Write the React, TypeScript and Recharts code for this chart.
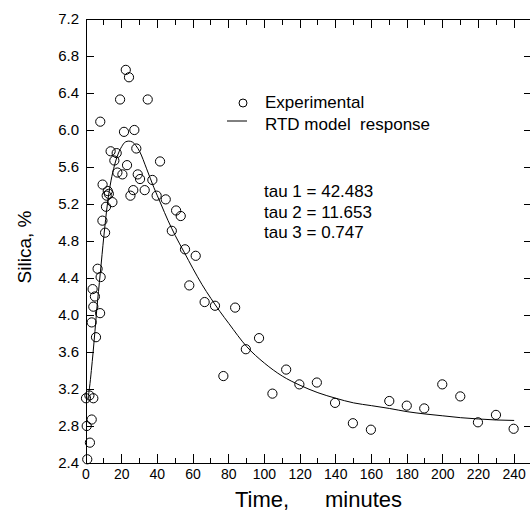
import React from 'react';
import { ComposedChart, Scatter, Line, XAxis, YAxis, Label, Customized } from 'recharts';

// Experimental points (time, minutes / silica, %)
const expTime = [
  0, 0.4, 0.7, 1.9, 2.2, 3.2, 3.2, 3.7, 4.1, 4.1, 5.0, 5.6, 6.5, 7.9, 8.0, 8.2, 9.2, 9.3,
  10.7, 11.2, 11.6, 12.2, 12.8, 13.8, 14.8, 15.9, 17.2, 17.6, 19.1, 20.4, 21.3, 22.3, 23.0,
  24.1, 24.9, 26.5, 27.1, 28.2, 29.0, 30.3, 32.9, 34.6, 37.2, 39.6, 41.5, 44.7, 48.1, 50.5,
  53.1, 55.5, 57.9, 61.5, 66.5, 72.3, 77.0, 83.6, 89.6, 97.0, 104.5, 112.2, 119.6, 129.4,
  139.6, 149.6, 159.7, 170, 179.8, 189.6, 199.7, 209.8, 219.7, 229.8, 239.7,
];
const expSilica = [
  3.10, 2.80, 2.44, 3.13, 2.62, 2.87, 3.92, 4.28, 3.10, 4.09, 4.20, 3.76, 4.50, 4.02, 6.09, 4.41, 5.02, 5.41,
  4.89, 5.17, 5.29, 5.34, 5.31, 5.77, 5.22, 5.67, 5.75, 5.54, 6.33, 5.52, 5.98, 6.65, 5.62,
  6.57, 5.29, 5.35, 6.00, 5.80, 5.52, 5.47, 5.35, 6.33, 5.46, 5.29, 5.66, 5.25, 4.91, 5.13,
  5.07, 4.71, 4.32, 4.64, 4.14, 4.10, 3.34, 4.08, 3.63, 3.75, 3.15, 3.41, 3.25, 3.27,
  3.05, 2.83, 2.76, 3.07, 3.02, 2.99, 3.25, 3.12, 2.84, 2.92, 2.77,
];

// RTD model response curve
const modelTime = [
  0, 1, 2, 3, 4, 5, 6, 8, 10, 12, 14, 16, 18, 20, 22, 24, 26, 28, 30, 34, 38, 42, 46, 50,
  55, 60, 65, 70, 75, 80, 90, 100, 110, 120, 130, 140, 150, 160, 170, 180, 190, 200, 210,
  220, 230, 240,
];
const modelSilica = [
  3.08, 3.10, 3.22, 3.40, 3.60, 3.82, 4.05, 4.45, 4.85, 5.20, 5.45, 5.62, 5.74, 5.82, 5.87,
  5.88, 5.87, 5.83, 5.77, 5.58, 5.38, 5.20, 5.02, 4.86, 4.68, 4.50, 4.33, 4.18, 4.04, 3.91,
  3.66, 3.48, 3.34, 3.24, 3.16, 3.10, 3.05, 3.02, 2.99, 2.955, 2.93, 2.91, 2.89, 2.876,
  2.865, 2.86,
];

const xMajorTicks = [0, 20, 40, 60, 80, 100, 120, 140, 160, 180, 200, 220, 240];
const xMinorTicks = [10, 30, 50, 70, 90, 110, 130, 150, 170, 190, 210, 230];
const yTicks = [2.4, 2.8, 3.2, 3.6, 4.0, 4.4, 4.8, 5.2, 5.6, 6.0, 6.4, 6.8, 7.2];

const legendLabels = ['Experimental', 'RTD model  response'];
const tauLabels = ['tau 1 = 42.483', 'tau 2 = 11.653', 'tau 3 = 0.747'];

const FONT = 'Liberation Sans, Arial, Helvetica, sans-serif';
const X_DOMAIN: [number, number] = [0, 250];
const Y_DOMAIN: [number, number] = [2.4, 7.2];
const AXIS_LINE = { stroke: '#000', strokeWidth: 1, shapeRendering: 'crispEdges' };

const expData = expTime.map((t, i) => ({ x: t, y: expSilica[i] }));
const modelData = modelTime.map((t, i) => ({ x: t, y: modelSilica[i] }));

// tick-mark anchor points on the frame, placed through the chart scales
const bottomMajor = xMajorTicks.map((v) => ({ x: v, y: Y_DOMAIN[0] }));
const bottomMinor = xMinorTicks.map((v) => ({ x: v, y: Y_DOMAIN[0] }));
const topMajor = xMajorTicks.map((v) => ({ x: v, y: Y_DOMAIN[1] }));
const topMinor = xMinorTicks.map((v) => ({ x: v, y: Y_DOMAIN[1] }));
const leftTicks = yTicks.map((v) => ({ x: X_DOMAIN[0], y: v }));
const rightTicks = yTicks.map((v) => ({ x: X_DOMAIN[1], y: v }));

const tickShape = (dx: number, dy: number) => (p: any) => (
  <line
    x1={p.cx}
    y1={p.cy}
    x2={p.cx + dx}
    y2={p.cy + dy}
    stroke="#000"
    strokeWidth={1}
    shapeRendering="crispEdges"
  />
);

const BottomLabel = (props: any) => {
  const { x, y, payload } = props;
  return (
    <text x={x} y={y + 16} textAnchor="middle" fontSize={14} fontFamily={FONT} fill="#000">
      {payload.value}
    </text>
  );
};

const LeftLabel = (props: any) => {
  const { x, y, payload } = props;
  return (
    <text x={x - 7} y={y + 5} textAnchor="end" fontSize={15} fontFamily={FONT} fill="#000">
      {Number(payload.value).toFixed(1)}
    </text>
  );
};

const Circle = (p: any) => (
  <circle cx={p.cx} cy={p.cy} r={4.6} fill="none" stroke="#000" strokeWidth={1} />
);

const Annotations = () => (
  <g fontFamily={FONT} fill="#000">
    <circle cx={243} cy={103} r={4} fill="none" stroke="#000" strokeWidth={1} />
    <text x={265} y={108} fontSize={17}>{legendLabels[0]}</text>
    <line x1={227} y1={121} x2={247} y2={121} stroke="#000" strokeWidth={1} />
    <text x={265} y={130} fontSize={17} style={{ whiteSpace: 'pre' }}>{legendLabels[1]}</text>
    {tauLabels.map((t, i) => (
      <text key={t} x={264} y={197 + i * 20.7} fontSize={17}>{t}</text>
    ))}
  </g>
);

const tickSeries: [any[], number, number][] = [
  [bottomMajor, 0, -9],
  [bottomMinor, 0, -5],
  [topMajor, 0, 9],
  [topMinor, 0, 6],
  [leftTicks, 8, 0],
  [rightTicks, -8, 0],
];

export default function App() {
  return (
    <div style={{ position: 'absolute', left: 0, top: 0, width: 530, height: 512, overflow: 'hidden', background: '#fff' }}>
      <ComposedChart width={540} height={512} margin={{ top: 18, right: 7, left: 0, bottom: 0 }}>
        <XAxis
          xAxisId="bottom"
          type="number"
          dataKey="x"
          domain={X_DOMAIN}
          ticks={xMajorTicks}
          interval={0}
          orientation="bottom"
          height={49}
          tickSize={0}
          tickMargin={0}
          tick={<BottomLabel />}
          tickLine={false}
          axisLine={AXIS_LINE}
        >
          <Label
            content={(p: any) => {
              const vb = p.viewBox;
              return (
                <text y={vb.y + 44} fontSize={22} fontFamily={FONT} fill="#000">
                  <tspan x={vb.x + 149}>Time,</tspan>
                  <tspan x={vb.x + 239}>minutes</tspan>
                </text>
              );
            }}
          />
        </XAxis>
        <XAxis
          xAxisId="top"
          type="number"
          dataKey="x"
          domain={X_DOMAIN}
          ticks={xMajorTicks}
          interval={0}
          orientation="top"
          height={1}
          tick={false}
          tickLine={false}
          axisLine={AXIS_LINE}
          allowDataOverflow
        />
        <YAxis
          yAxisId="left"
          type="number"
          domain={Y_DOMAIN}
          ticks={yTicks}
          interval={0}
          orientation="left"
          width={86}
          tickSize={0}
          tickMargin={0}
          tick={<LeftLabel />}
          tickLine={false}
          axisLine={AXIS_LINE}
        >
          <Label
            content={(p: any) => {
              const vb = p.viewBox;
              const cx = 24;
              const cy = vb.y + 228;
              return (
                <text
                  x={cx}
                  y={cy}
                  transform={`rotate(-90 ${cx} ${cy})`}
                  textAnchor="middle"
                  dominantBaseline="central"
                  fontSize={19}
                  fontFamily={FONT}
                  fill="#000"
                >
                  Silica, %
                </text>
              );
            }}
          />
        </YAxis>
        <YAxis
          yAxisId="right"
          type="number"
          domain={Y_DOMAIN}
          ticks={yTicks}
          interval={0}
          orientation="right"
          width={1}
          tick={false}
          tickLine={false}
          axisLine={AXIS_LINE}
          allowDataOverflow
        />
        {tickSeries.map(([d, dx, dy], i) => (
          <Scatter
            key={`ticks-${i}`}
            xAxisId="bottom"
            yAxisId="left"
            data={d}
            dataKey="y"
            shape={tickShape(dx, dy)}
            legendType="none"
            isAnimationActive={false}
          />
        ))}
        <Line
          xAxisId="bottom"
          yAxisId="left"
          data={modelData}
          dataKey="y"
          type="monotone"
          stroke="#000"
          strokeWidth={1}
          dot={false}
          activeDot={false}
          isAnimationActive={false}
        />
        <Scatter
          xAxisId="bottom"
          yAxisId="left"
          data={expData}
          dataKey="y"
          shape={Circle}
          isAnimationActive={false}
        />
        <Customized component={Annotations} />
      </ComposedChart>
    </div>
  );
}
